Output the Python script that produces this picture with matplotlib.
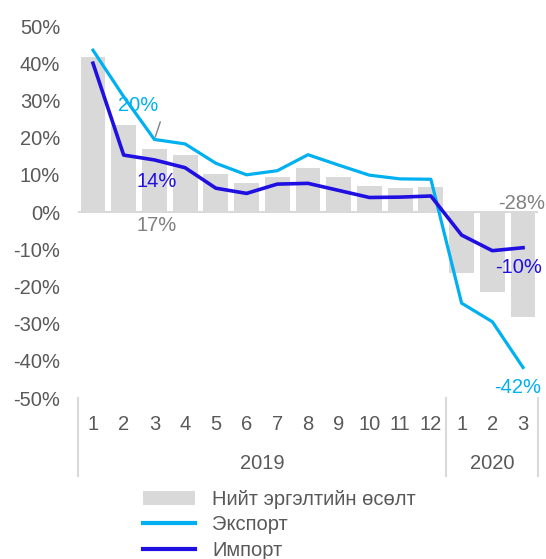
import matplotlib
matplotlib.use("Agg")
import matplotlib.pyplot as plt
import matplotlib.transforms as mtransforms
from matplotlib.patches import Patch
from matplotlib.lines import Line2D

months = ["1", "2", "3", "4", "5", "6", "7", "8", "9", "10", "11", "12", "1", "2", "3"]
years = ["2019", "2020"]
year_counts = [12, 3]
total = [41.6, 23.4, 16.9, 15.3, 10.1, 7.7, 9.5, 11.8, 9.5, 7.1, 6.5, 6.6, -16.3, -21.4, -28.1]
export = [43.5, 31.0, 19.5, 18.3, 13.1, 10.0, 11.1, 15.4, 12.6, 9.9, 8.9, 8.8, -24.5, -29.5, -41.8]
imports = [40.0, 15.3, 14.0, 11.9, 6.4, 5.0, 7.5, 7.7, 5.8, 3.9, 4.0, 4.3, -6.2, -10.4, -9.6]
yticks = [50, 40, 30, 20, 10, 0, -10, -20, -30, -40, -50]
legend_labels = ["Нийт эргэлтийн өсөлт", "Экспорт", "Импорт"]

BAR = "#D9D9D9"
LIGHT = "#00B0F0"
DARK = "#1F0FE0"
GRAY = "#808080"
TICK = "#595959"
FS = 14.5

plt.rcParams["font.family"] = ["Liberation Sans", "DejaVu Sans"]

W, H = 546, 559
fig = plt.figure(figsize=(W / 100, H / 100), dpi=100)
ax = fig.add_axes([77.6 / W, 1 - 398 / H, (538.4 - 77.6) / W, (398 - 26) / H])

x = list(range(len(months)))
ax.bar(x, total, width=0.81, color=BAR, zorder=1)
ax.axhline(0, color=BAR, lw=1.5, zorder=0.5)
ax.plot(x, export, color=LIGHT, lw=2.3, zorder=3)
ax.plot(x, imports, color=DARK, lw=2.6, zorder=4)

ax.set_xlim(-0.5, len(months) - 0.5)
ax.set_ylim(-50, 50)
ax.set_yticks(yticks)
ax.set_yticklabels([f"{v}%" for v in yticks])
ax.set_xticks(x)
ax.set_xticklabels(months)
ax.tick_params(axis="y", length=0, pad=12.5, labelsize=FS, labelcolor=TICK)
ax.tick_params(axis="x", length=0, pad=12.5, labelsize=FS, labelcolor=TICK)
for s in ax.spines.values():
    s.set_visible(False)

# group separators and year labels
trans = mtransforms.blended_transform_factory(ax.transData, ax.transAxes)
bounds = [-0.5]
for c in year_counts:
    bounds.append(bounds[-1] + c)
for b in bounds:
    ax.plot([b, b], [0, -0.21], color=BAR, lw=1.5, transform=trans, clip_on=False)
for i, yr in enumerate(years):
    ax.text((bounds[i] + bounds[i + 1]) / 2, -0.177, yr, transform=trans,
            ha="center", va="center", fontsize=FS, color=TICK)

# data labels
ax.text(1.47, 28.5, "20%", color=LIGHT, fontsize=FS, ha="center", va="center")
ax.plot([2.19, 2.03], [24.2, 20.2], color=GRAY, lw=1)
ax.text(2.08, 8.1, "14%", color=DARK, fontsize=FS, ha="center", va="center")
ax.text(2.08, -3.5, "17%", color=GRAY, fontsize=FS, ha="center", va="center")
ax.text(13.95, 2.4, "-28%", color=GRAY, fontsize=FS, ha="center", va="center")
ax.text(13.87, -14.8, "-10%", color=DARK, fontsize=FS, ha="center", va="center")
ax.text(13.84, -47.3, "-42%", color=LIGHT, fontsize=FS, ha="center", va="center")

handles = [Patch(facecolor=BAR, edgecolor="none"),
           Line2D([], [], color=LIGHT, lw=3),
           Line2D([], [], color=DARK, lw=3)]
fig.legend(handles, legend_labels, loc="upper left", bbox_to_anchor=(143 / W, 1 - 490 / H),
           frameon=False, fontsize=FS, handlelength=2.6, handleheight=0.7,
           handletextpad=0.85, labelspacing=0.32, borderpad=0, borderaxespad=0,
           labelcolor=TICK)

fig.savefig("out.png", dpi=100)
